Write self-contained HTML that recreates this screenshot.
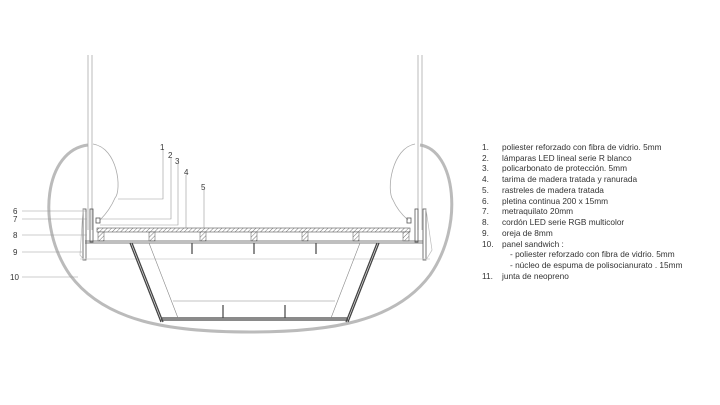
<!DOCTYPE html>
<html><head><meta charset="utf-8"><style>
html,body{margin:0;padding:0;background:#fff;width:720px;height:405px;overflow:hidden}
svg{display:block}
text{font-family:"Liberation Sans",sans-serif;fill:#333}
</style></head><body>
<svg width="720" height="405" viewBox="0 0 720 405" xmlns="http://www.w3.org/2000/svg">
<defs>
<pattern id="h" width="3" height="3" patternUnits="userSpaceOnUse" patternTransform="rotate(45)">
<rect width="3" height="3" fill="#fff"/><line x1="0" y1="0" x2="0" y2="3" stroke="#777" stroke-width="1"/></pattern>
</defs>
<!-- outer hull -->
<path d="M88,145 C45,150 35,225 70,275 C105,322 170,332 250,332 C330,332 395,322 430,275 C465,225 455,150 420,145" fill="none" stroke="#bbb" stroke-width="3"/>
<!-- bulbs -->
<path d="M93,144 C118,148 122,190 115,198 C112,205 108,212 100,220" fill="none" stroke="#aaa" stroke-width="0.8"/>
<path d="M415,144 C392,148 386,190 393,200 C396,207 400,213 408,220" fill="none" stroke="#aaa" stroke-width="0.8"/>
<!-- rods -->
<g stroke="#aaa" stroke-width="0.8">
<line x1="88" y1="55" x2="88" y2="230"/><line x1="92" y1="55" x2="92" y2="230"/>
<line x1="418" y1="55" x2="418" y2="230"/><line x1="422" y1="55" x2="422" y2="230"/>
</g>
<!-- side plates -->
<g fill="none" stroke="#555" stroke-width="0.8">
<rect x="83" y="209" width="3" height="51"/><rect x="90" y="209" width="3" height="33"/>
<rect x="415" y="209" width="3" height="33"/><rect x="423" y="209" width="3" height="51"/>
<rect x="96" y="218" width="4" height="5"/><rect x="407" y="218" width="4" height="5"/>
</g>
<path d="M83,209 L80,255 L84,260" fill="none" stroke="#bbb" stroke-width="0.7"/>
<path d="M426,209 L432,250 L426,260" fill="none" stroke="#bbb" stroke-width="0.7"/>
<!-- deck -->
<rect x="97" y="228" width="313" height="4" fill="url(#h)" stroke="#555" stroke-width="0.6"/>
<g fill="url(#h)" stroke="#555" stroke-width="0.5">
<rect x="98" y="232" width="6" height="9"/><rect x="149" y="232" width="6" height="9"/>
<rect x="200" y="232" width="6" height="9"/><rect x="251" y="232" width="6" height="9"/>
<rect x="302" y="232" width="6" height="9"/><rect x="353" y="232" width="6" height="9"/>
<rect x="403" y="232" width="6" height="9"/>
</g>
<line x1="85" y1="241" x2="423" y2="241" stroke="#555" stroke-width="0.8"/>
<line x1="85" y1="243" x2="423" y2="243" stroke="#555" stroke-width="0.8"/>
<line x1="80" y1="259" x2="430" y2="259" stroke="#ccc" stroke-width="0.7"/>
<!-- frame -->
<g stroke="#444" stroke-width="1.3" fill="none">
<path d="M130,243 L161,322"/><path d="M132,243 L163,322"/>
<path d="M377,243 L346,322"/><path d="M379,243 L348,322"/>
<line x1="161" y1="318" x2="348" y2="318"/><line x1="161" y1="320" x2="348" y2="320"/>
</g>
<g stroke="#888" stroke-width="0.6">
<line x1="149" y1="243" x2="178" y2="318"/><line x1="360" y1="243" x2="331" y2="318"/>
<line x1="173" y1="301" x2="335" y2="301"/>
</g>
<g stroke="#444" stroke-width="1.2">
<line x1="192" y1="243" x2="192" y2="254"/><line x1="254" y1="243" x2="254" y2="254"/><line x1="316" y1="243" x2="316" y2="254"/>
<line x1="223" y1="305" x2="223" y2="318"/><line x1="285" y1="305" x2="285" y2="318"/>
</g>
<!-- leaders -->
<g stroke="#999" stroke-width="0.6" fill="none">
<path d="M118,199 L163,199 L163,150"/>
<path d="M100,219 L171,219 L171,158"/>
<path d="M100,225 L178,225 L178,164"/>
<path d="M186,228 L186,175"/>
<line x1="204" y1="228" x2="204" y2="190"/>
<line x1="22" y1="211" x2="87" y2="211"/><line x1="22" y1="219" x2="87" y2="219"/>
<line x1="22" y1="235" x2="87" y2="235"/><line x1="22" y1="252" x2="82" y2="252"/>
<line x1="22" y1="277" x2="78" y2="277"/>
</g>
<g font-size="8">
<text x="160" y="150">1</text><text x="168" y="158">2</text><text x="175" y="164">3</text>
<text x="184" y="175">4</text><text x="201" y="190">5</text>
<text x="13" y="214">6</text><text x="13" y="222">7</text><text x="13" y="238">8</text>
<text x="13" y="255">9</text><text x="10" y="280">10</text>
</g>
<g font-size="8.3">
<text x="482" y="150">1.</text><text x="502" y="150">poliester reforzado con fibra de vidrio. 5mm</text>
<text x="482" y="161">2.</text><text x="502" y="161">lámparas LED lineal serie R blanco</text>
<text x="482" y="171">3.</text><text x="502" y="171">policarbonato de protección. 5mm</text>
<text x="482" y="182">4.</text><text x="502" y="182">tarima de madera tratada y ranurada</text>
<text x="482" y="193">5.</text><text x="502" y="193">rastreles de madera tratada</text>
<text x="482" y="204">6.</text><text x="502" y="204">pletina continua 200 x 15mm</text>
<text x="482" y="214">7.</text><text x="502" y="214">metraquilato 20mm</text>
<text x="482" y="225">8.</text><text x="502" y="225">cordón LED serie RGB multicolor</text>
<text x="482" y="236">9.</text><text x="502" y="236">oreja de 8mm</text>
<text x="482" y="247">10.</text><text x="502" y="247">panel sandwich :</text>
<text x="510" y="257">- poliester reforzado con fibra de vidrio. 5mm</text>
<text x="510" y="268">- núcleo de  espuma de polisocianurato . 15mm</text>
<text x="482" y="279">11.</text><text x="502" y="279">junta de neopreno</text>
</g>
</svg>
</body></html>
